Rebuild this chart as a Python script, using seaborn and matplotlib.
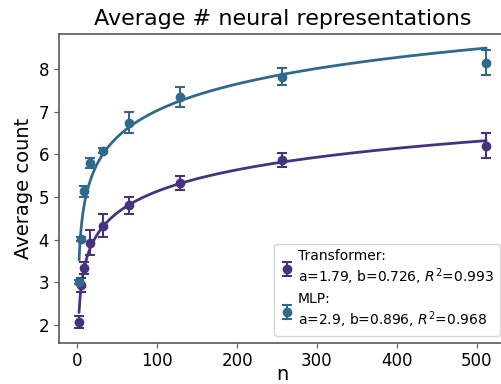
import numpy as np
import pandas as pd
import matplotlib
matplotlib.use("Agg")
import matplotlib.pyplot as plt
import seaborn as sns

n_values = [2, 4, 8, 16, 32, 64, 128, 256, 512]
transformer_mean = [2.07, 2.94, 3.34, 3.93, 4.33, 4.80, 5.33, 5.86, 6.20]
transformer_err = [0.15, 0.17, 0.14, 0.29, 0.27, 0.20, 0.16, 0.16, 0.29]
mlp_mean = [3.00, 4.01, 5.13, 5.80, 6.08, 6.74, 7.34, 7.82, 8.15]
mlp_err = [0.05, 0.05, 0.12, 0.11, 0.06, 0.25, 0.23, 0.20, 0.29]

fit_params = {"Transformer": (1.79, 0.726, 0.993), "MLP": (2.9, 0.896, 0.968)}
colors = {"Transformer": "#46337f", "MLP": "#31688e"}

sns.set_style("ticks", {"text.color": "black", "axes.labelcolor": "black",
                        "xtick.color": "black", "ytick.color": "black"})
plt.rcParams["font.family"] = ["DejaVu Sans"]

fig = plt.figure(figsize=(5.02, 3.84), dpi=100)
ax = fig.add_axes([58.7 / 502, (384 - 342.7) / 384, (506.5 - 58.7) / 502, (342.7 - 33.5) / 384])

n_fit = np.linspace(min(n_values), max(n_values), 400)
for name, mean, err in [("Transformer", transformer_mean, transformer_err),
                        ("MLP", mlp_mean, mlp_err)]:
    a, b, r2 = fit_params[name]
    df = pd.DataFrame({"n": n_fit, "y": a + b * np.log(n_fit)})
    sns.lineplot(data=df, x="n", y="y", color=colors[name], lw=2, ax=ax, legend=False)
    ax.errorbar(n_values, mean, yerr=err, fmt="o", color=colors[name], ms=6,
                capsize=3.5, elinewidth=1.5, capthick=1.5,
                label=f"{name}:\na={a}, b={b}, $R^2$={r2}")

ax.set_xlim(-23.5, 537.5)
ax.set_ylim(1.585, 8.83)
ax.set_xticks([0, 100, 200, 300, 400, 500])
ax.set_yticks([2, 3, 4, 5, 6, 7, 8])
ax.tick_params(labelsize=12, color="0.35", labelcolor="black")
for s in ax.spines.values():
    s.set_color("0.35")
    s.set_linewidth(1.2)
ax.set_xlabel("n", fontsize=14, labelpad=-4, color="black")
ax.set_ylabel("Average count", fontsize=14, color="black")
ax.set_title("Average # neural representations", fontsize=16, color="black")
ax.legend(loc="lower right", fontsize=10, handletextpad=0.3, handlelength=1.0,
          borderpad=0.4, labelspacing=0.4)

fig.savefig("out.png", dpi=100)
